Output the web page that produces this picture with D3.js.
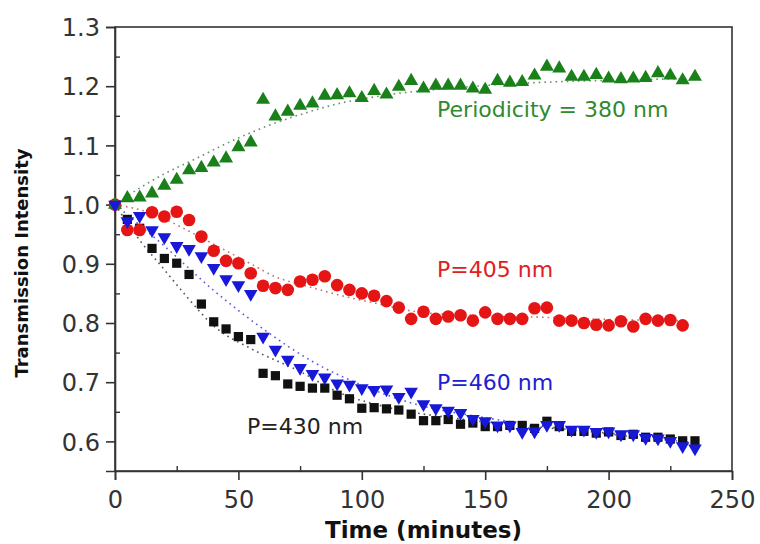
<!DOCTYPE html>
<html>
<head>
<meta charset="utf-8">
<script src="https://cdn.jsdelivr.net/npm/d3@7"></script>
<style>
  body { margin: 0; background: #fff; }
  svg { display: block; font-family: "DejaVu Sans", sans-serif; }
</style>
</head>
<body>
<div id="chart"></div>
<script>
// time axis, minutes (every 5 min)
const time = d3.range(0, 240, 5);

const p380 = [1.000, 1.011, 1.012, 1.019, 1.032, 1.042, 1.058, 1.062, 1.071, 1.078,
  1.097, 1.105, 1.177, 1.149, 1.157, 1.167, 1.171, 1.184, 1.185, 1.188,
  1.180, 1.192, 1.186, 1.199, 1.209, 1.196, 1.201, 1.201, 1.201, 1.196,
  1.194, 1.209, 1.206, 1.207, 1.218, 1.233, 1.230, 1.216, 1.216, 1.219,
  1.213, 1.212, 1.213, 1.214, 1.222, 1.218, 1.210, 1.216];

const p405 = [1.000, 0.957, 0.957, 0.987, 0.980, 0.988, 0.974, 0.946, 0.922, 0.905,
  0.901, 0.884, 0.863, 0.859, 0.856, 0.870, 0.873, 0.879, 0.864, 0.856,
  0.850, 0.846, 0.837, 0.826, 0.807, 0.819, 0.807, 0.811, 0.813, 0.804,
  0.818, 0.807, 0.807, 0.807, 0.825, 0.826, 0.804, 0.804, 0.800, 0.797,
  0.796, 0.803, 0.794, 0.807, 0.804, 0.805, 0.796];

const p430 = [1.000, 0.975, 0.960, 0.926, 0.909, 0.901, 0.882, 0.832, 0.802, 0.790,
  0.777, 0.772, 0.715, 0.711, 0.697, 0.693, 0.690, 0.690, 0.678, 0.672,
  0.656, 0.657, 0.655, 0.653, 0.646, 0.635, 0.635, 0.637, 0.629, 0.631,
  0.625, 0.625, 0.627, 0.627, 0.622, 0.634, 0.625, 0.617, 0.617, 0.614,
  0.616, 0.610, 0.612, 0.607, 0.607, 0.604, 0.601, 0.601];

const p460 = [1.000, 0.972, 0.981, 0.957, 0.945, 0.930, 0.925, 0.913, 0.893, 0.874,
  0.864, 0.849, 0.777, 0.755, 0.738, 0.724, 0.714, 0.708, 0.698, 0.696,
  0.690, 0.687, 0.688, 0.675, 0.684, 0.663, 0.656, 0.652, 0.648, 0.638,
  0.634, 0.627, 0.627, 0.616, 0.617, 0.628, 0.628, 0.620, 0.620, 0.616,
  0.617, 0.612, 0.612, 0.606, 0.605, 0.601, 0.592, 0.588];

// dotted fit curves
const fitT380 = [0, 10, 20, 32, 45, 60, 75, 90, 110, 140, 170, 200, 235];
const fit380 = [1.000, 1.028, 1.052, 1.076, 1.103, 1.130, 1.152, 1.170, 1.185, 1.198, 1.206, 1.210, 1.213];
const fitT405 = [0, 15, 30, 45, 55, 65, 78, 90, 106, 124, 150, 170, 200, 230];
const fit405 = [1.000, 0.985, 0.955, 0.922, 0.900, 0.878, 0.862, 0.848, 0.833, 0.818, 0.812, 0.810, 0.806, 0.804];
const fitT430 = [0, 10, 20, 30, 40, 55, 75, 90, 110, 140, 170, 200, 235];
const fit430 = [1.000, 0.940, 0.890, 0.840, 0.795, 0.757, 0.718, 0.684, 0.658, 0.638, 0.625, 0.614, 0.602];
const fitT460 = [0, 20, 40, 60, 80, 100, 120, 150, 180, 210, 235];
const fit460 = [1.000, 0.930, 0.855, 0.790, 0.735, 0.695, 0.665, 0.640, 0.622, 0.608, 0.598];

const xTicks = [0, 50, 100, 150, 200, 250];
const yTicks = [0.6, 0.7, 0.8, 0.9, 1.0, 1.1, 1.2, 1.3];

const W = 760, H = 544;
const mLeft = 115, mRight = 732, mTop = 27, mBottom = 471;

const svg = d3.select('#chart').append('svg').attr('width', W).attr('height', H);

const x = d3.scaleLinear().domain([0, 250]).range([mLeft, mRight]);
const y = d3.scaleLinear().domain([0.55, 1.3]).range([mBottom, mTop]);

const axisColor = '#333';

// frame
svg.append('rect')
  .attr('x', mLeft).attr('y', mTop)
  .attr('width', mRight - mLeft).attr('height', mBottom - mTop)
  .attr('fill', 'none').attr('stroke', axisColor).attr('stroke-width', 1.6);

// minor ticks (inside)
const xMinor = d3.range(25, 250, 50);
const yMinor = d3.range(0.65, 1.3, 0.1);
svg.append('g').attr('transform', `translate(0,${mBottom})`)
  .call(d3.axisTop(x).tickValues(xMinor).tickSize(5).tickFormat(''))
  .call(g => g.select('.domain').remove())
  .selectAll('line').attr('stroke', axisColor).attr('stroke-width', 1.4);
svg.append('g').attr('transform', `translate(${mLeft},0)`)
  .call(d3.axisRight(y).tickValues(yMinor).tickSize(5).tickFormat(''))
  .call(g => g.select('.domain').remove())
  .selectAll('line').attr('stroke', axisColor).attr('stroke-width', 1.4);

// major axes
const xAxis = svg.append('g').attr('transform', `translate(0,${mBottom})`)
  .call(d3.axisBottom(x).tickValues(xTicks).tickSize(9).tickPadding(6).tickFormat(d3.format('d')));
const yAxis = svg.append('g').attr('transform', `translate(${mLeft},0)`)
  .call(d3.axisLeft(y).tickValues(yTicks).tickSize(9).tickPadding(6).tickFormat(d3.format('.1f')));
[xAxis, yAxis].forEach(g => {
  g.select('.domain').attr('stroke', axisColor).attr('stroke-width', 1.6);
  g.selectAll('line').attr('stroke', axisColor).attr('stroke-width', 1.6);
  g.selectAll('text').attr('fill', '#333').attr('font-size', 24)
    .attr('font-family', '"DejaVu Sans", sans-serif');
});
xAxis.selectAll('text').attr('dy', '0.9em');
yAxis.selectAll('text').attr('dy', '0.36em');

// axis titles
svg.append('text')
  .attr('x', (mLeft + mRight) / 2).attr('y', 538)
  .attr('text-anchor', 'middle').attr('font-weight', 'bold')
  .attr('font-size', 23).attr('fill', '#111')
  .text('Time (minutes)');
svg.append('text')
  .attr('transform', `translate(28,${(mTop + mBottom) / 2 + 14}) rotate(-90)`)
  .attr('text-anchor', 'middle').attr('font-weight', 'bold')
  .attr('font-size', 18).attr('fill', '#111')
  .text('Transmission Intensity');

const series = [
  { name: 'p430', values: p430, fitT: fitT430, fit: fit430, color: '#111111', fitColor: '#555', shape: 'square' },
  { name: 'p405', values: p405, fitT: fitT405, fit: fit405, color: '#e51515', fitColor: '#c87070', shape: 'circle' },
  { name: 'p380', values: p380, fitT: fitT380, fit: fit380, color: '#1a801a', fitColor: '#6a8f6a', shape: 'up' },
  { name: 'p460', values: p460, fitT: fitT460, fit: fit460, color: '#1818d8', fitColor: '#5a5ad8', shape: 'down' }
];

const fitLine = d3.line()
  .x(d => x(d[0])).y(d => y(d[1]))
  .curve(d3.curveMonotoneX);

series.forEach(s => {
  svg.append('path')
    .datum(s.fitT.map((t, i) => [t, s.fit[i]]))
    .attr('fill', 'none')
    .attr('stroke', s.fitColor)
    .attr('stroke-width', 1.6)
    .attr('stroke-dasharray', '1.6,4')
    .attr('d', fitLine);
});

const symbols = {
  square: d3.symbol().type(d3.symbolSquare).size(85),
  circle: d3.symbol().type(d3.symbolCircle).size(125),
  up: d3.symbol().type(d3.symbolTriangle).size(85),
  down: d3.symbol().type(d3.symbolTriangle).size(80)
};

series.forEach(s => {
  svg.append('g').selectAll('path')
    .data(s.values)
    .enter()
    .append('path')
    .attr('d', symbols[s.shape]())
    .attr('transform', (d, i) => `translate(${x(time[i])},${y(d)})` + (s.shape === 'down' ? ' rotate(180)' : ''))
    .attr('fill', s.color);
});

// annotations
const labels = [
  { text: 'Periodicity = 380 nm', t: 130.5, v: 1.148, color: '#2f8a2f' },
  { text: 'P=405 nm', t: 130.5, v: 0.878, color: '#e02020' },
  { text: 'P=460 nm', t: 130.5, v: 0.686, color: '#2020d0' },
  { text: 'P=430 nm', t: 53.5, v: 0.612, color: '#222' }
];
svg.append('g').selectAll('text')
  .data(labels)
  .enter()
  .append('text')
  .attr('x', d => x(d.t)).attr('y', d => y(d.v))
  .attr('font-size', 22)
  .attr('fill', d => d.color)
  .text(d => d.text);
</script>
</body>
</html>
